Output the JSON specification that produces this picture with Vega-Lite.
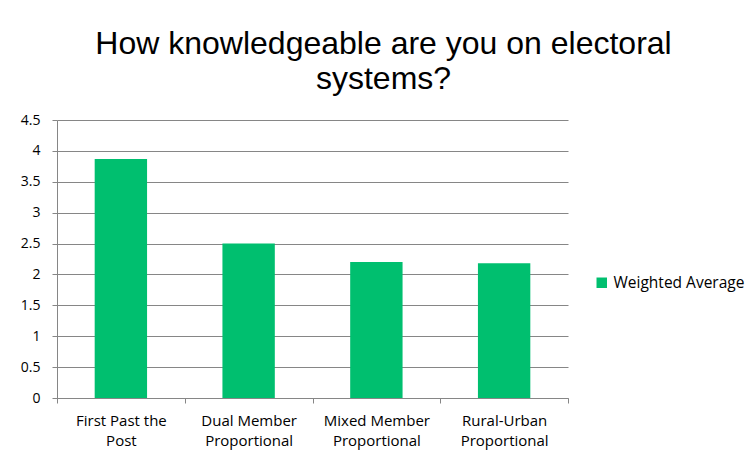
{
  "$schema": "https://vega.github.io/schema/vega-lite/v6.json",
  "width": 511,
  "height": 278,
  "autosize": {"type": "none"},
  "padding": {"left": 57, "top": 120, "right": 182, "bottom": 61},
  "background": "white",
  "title": {
    "text": ["How knowledgeable are you on electoral", "systems?"],
    "font": "Liberation Sans",
    "fontSize": 32,
    "fontWeight": "normal",
    "color": "#000000",
    "anchor": "middle",
    "frame": "group",
    "dx": 71,
    "lineHeight": 35,
    "offset": 17
  },
  "data": {
    "values": [
      {"system": "First Past the Post", "value": 3.87, "series": "Weighted Average"},
      {"system": "Dual Member Proportional", "value": 2.5, "series": "Weighted Average"},
      {"system": "Mixed Member Proportional", "value": 2.2, "series": "Weighted Average"},
      {"system": "Rural-Urban Proportional", "value": 2.18, "series": "Weighted Average"}
    ]
  },
  "mark": {"type": "bar", "width": {"band": 0.41}},
  "encoding": {
    "x": {
      "field": "system",
      "type": "nominal",
      "sort": null,
      "scale": {"paddingInner": 0, "paddingOuter": 0},
      "axis": {
        "title": null,
        "labelAngle": 0,
        "tickBand": "extent",
        "labelExpr": "datum.value == 'First Past the Post' ? ['First Past the', 'Post'] : datum.value == 'Dual Member Proportional' ? ['Dual Member', 'Proportional'] : datum.value == 'Mixed Member Proportional' ? ['Mixed Member', 'Proportional'] : datum.value == 'Rural-Urban Proportional' ? ['Rural-Urban', 'Proportional'] : ''",
        "labelFont": "Open Sans",
        "labelFontSize": 15,
        "labelColor": "#000000",
        "labelLineHeight": 20,
        "labelPadding": 10,
        "domainColor": "#868686",
        "tickColor": "#868686",
        "tickSize": 5,
        "grid": false
      }
    },
    "y": {
      "field": "value",
      "type": "quantitative",
      "scale": {"domain": [0, 4.5], "nice": false},
      "axis": {
        "title": null,
        "values": [0, 0.5, 1, 1.5, 2, 2.5, 3, 3.5, 4, 4.5],
        "format": "~g",
        "labelFont": "Open Sans",
        "labelFontSize": 14,
        "labelColor": "#000000",
        "labelPadding": 12,
        "domainColor": "#868686",
        "tickColor": "#868686",
        "tickSize": 5,
        "gridColor": "#868686",
        "gridWidth": 1
      }
    },
    "color": {
      "field": "series",
      "type": "nominal",
      "scale": {"range": ["#00BF6F"]},
      "legend": {
        "title": null,
        "orient": "none",
        "legendX": 537,
        "legendY": 155,
        "symbolType": "square",
        "symbolSize": 110,
        "symbolStrokeWidth": 0,
        "labelFont": "Open Sans",
        "labelFontSize": 15.5,
        "labelColor": "#000000",
        "labelOffset": 4
      }
    }
  },
  "config": {
    "view": {"stroke": null}
  }
}
